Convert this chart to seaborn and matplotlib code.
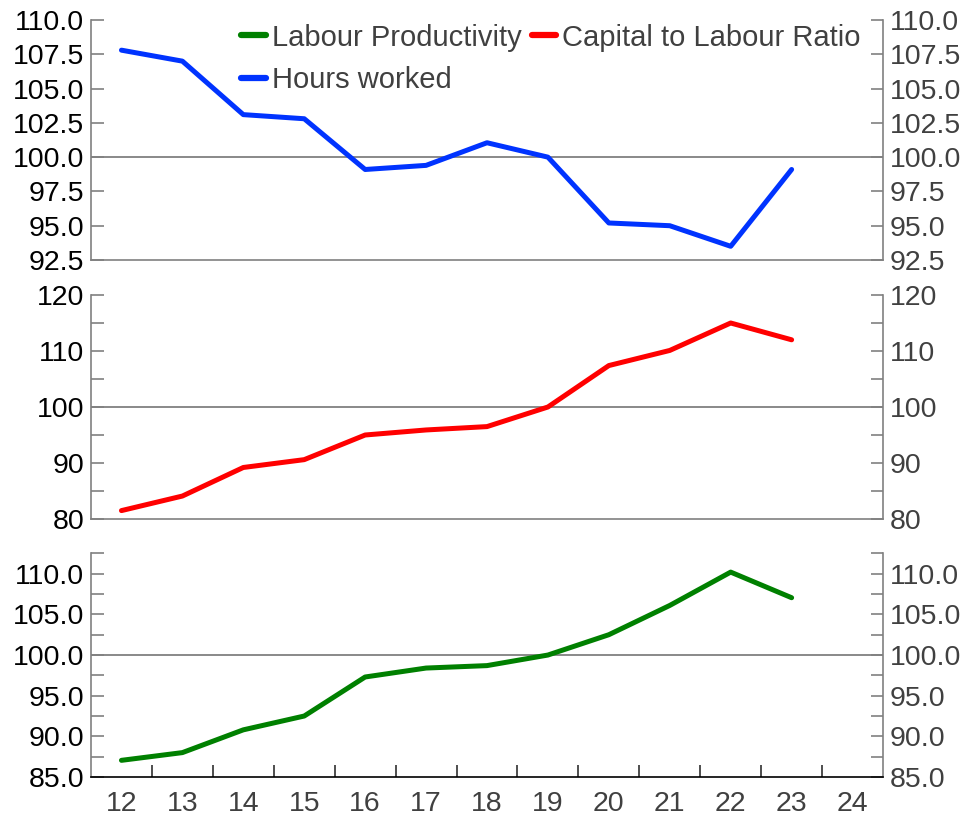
import matplotlib
matplotlib.use("Agg")
import matplotlib.pyplot as plt
import seaborn as sns
import pandas as pd
import numpy as np
from matplotlib.ticker import MultipleLocator, FixedLocator, FormatStrFormatter
from matplotlib.lines import Line2D

# ---- data ----
years = [12, 13, 14, 15, 16, 17, 18, 19, 20, 21, 22, 23]
tick_labels = ["12", "13", "14", "15", "16", "17", "18", "19", "20", "21", "22", "23", "24"]
hours_worked = [107.8, 107.0, 103.1, 102.8, 99.1, 99.4, 101.05, 100.0, 95.2, 95.0, 93.5, 99.1]
capital_labour = [81.5, 84.1, 89.2, 90.6, 95.0, 95.9, 96.5, 100.0, 107.4, 110.1, 115.0, 112.0]
labour_productivity = [87.05, 88.0, 90.8, 92.5, 97.3, 98.4, 98.7, 100.0, 102.5, 106.1, 110.2, 107.05]
series_names = ["Labour Productivity", "Capital to Labour Ratio", "Hours worked"]

GREEN = "#008000"
RED = "#FF0000"
BLUE = "#0033FF"
GRAY_TXT = "#404040"
SPINE = "#808080"

sns.set_theme(style="white")
plt.rcParams['font.family'] = ['Liberation Sans', 'DejaVu Sans']

fig = plt.figure(figsize=(9.69, 8.16), dpi=100)
L, W = 91 / 969, 792 / 969
ax1 = fig.add_axes([L, 1 - 260 / 816, W, 240 / 816])
ax2 = fig.add_axes([L, 1 - 519 / 816, W, 224 / 816])
ax3 = fig.add_axes([L, 1 - 777 / 816, W, 224 / 816])

df = pd.DataFrame({"year": years, "hw": hours_worked, "cl": capital_labour, "lp": labour_productivity})

LW = 3.6
sns.lineplot(data=df, x="year", y="hw", ax=ax1, color=BLUE, linewidth=LW)
sns.lineplot(data=df, x="year", y="cl", ax=ax2, color=RED, linewidth=LW)
sns.lineplot(data=df, x="year", y="lp", ax=ax3, color=GREEN, linewidth=LW)

FS = 20.5
cfg = [
    (ax1, (92.5, 110.0), 2.5, None, "%.1f"),
    (ax2, (80, 120), 10, 5, "%d"),
    (ax3, (85, 112.55), 5, 2.5, "%.1f"),
]
for ax, ylim, major, minor, fmt in cfg:
    ax.set_xlim(11.5, 24.5)
    ax.set_ylim(*ylim)
    ax.axhline(100, color=SPINE, linewidth=1.3, zorder=1)
    ax.set_xlabel("")
    ax.set_ylabel("")
    ax.yaxis.set_major_locator(MultipleLocator(major))
    if minor:
        ax.yaxis.set_minor_locator(MultipleLocator(minor))
    ax.yaxis.set_major_formatter(FormatStrFormatter(fmt))
    ax.tick_params(axis="y", which="both", direction="in", length=9, width=1.2,
                   color=SPINE, left=True, right=True, labelleft=True, labelright=True,
                   labelsize=FS, pad=5)
    ax.spines["top"].set_visible(False)
    for s in ["left", "right", "bottom"]:
        ax.spines[s].set_color(SPINE)
        ax.spines[s].set_linewidth(1.2)
    ax.set_xticks([])

for ax in (ax1, ax2, ax3):
    for tick in ax.yaxis.get_major_ticks():
        tick.label1.set_color("black")
        tick.label2.set_color(GRAY_TXT)

ax3.spines["bottom"].set_color("black")
ax3.set_xticks(list(range(12, 25)))
ax3.set_xticklabels(tick_labels)
ax3.xaxis.set_minor_locator(FixedLocator(np.arange(12.5, 24.5, 1.0)))
ax3.tick_params(axis="x", which="major", length=0, labelsize=FS, labelcolor=GRAY_TXT, pad=10)
ax3.tick_params(axis="x", which="minor", direction="in", length=9, width=1.2, color="#303030", bottom=True)

handles = [Line2D([], [], color=GREEN, linewidth=4.5),
           Line2D([], [], color=BLUE, linewidth=4.5),
           Line2D([], [], color=RED, linewidth=4.5)]
labels = [series_names[0], series_names[2], series_names[1]]
leg = ax1.legend(handles, labels, ncol=2, loc="upper left", bbox_to_anchor=((241 - 91) / 792, 0.985),
                 frameon=False, fontsize=21, handlelength=0.85, handletextpad=0.2,
                 columnspacing=0.35, borderpad=0, borderaxespad=0, labelspacing=0.5)
for t in leg.get_texts():
    t.set_color(GRAY_TXT)

fig.savefig("out.png", dpi=100)
